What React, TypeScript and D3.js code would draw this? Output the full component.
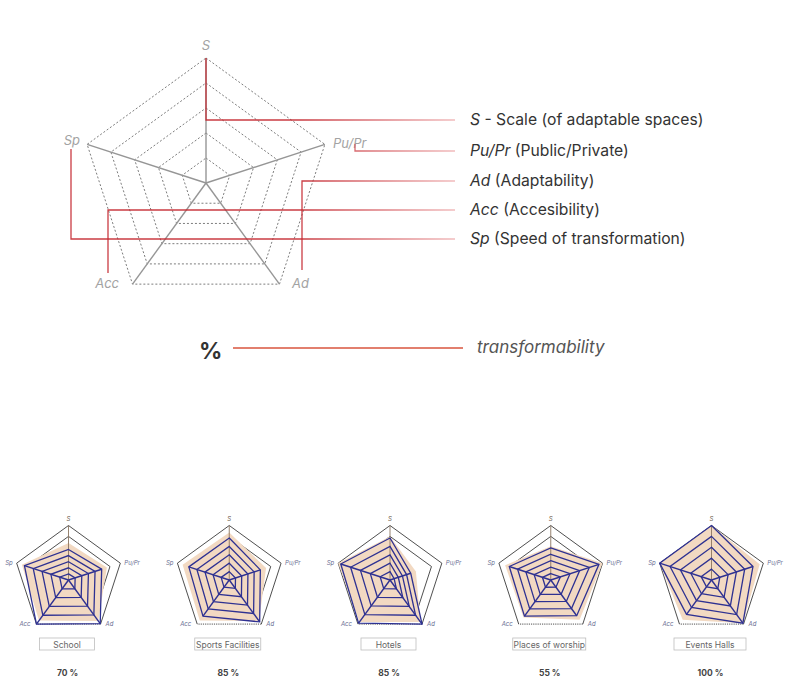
import React from "react";
import * as d3 from "d3";

const AXES = ["S", "Pu/Pr", "Ad", "Acc", "Sp"];
const LEVELS = [0.2, 0.4, 0.6, 0.8, 1.0];
const LEGEND_ABBR = ["S", "Pu/Pr", "Ad", "Acc", "Sp"];
const LEGEND_DESC = [
  " - Scale (of adaptable spaces)",
  " (Public/Private)",
  " (Adaptability)",
  " (Accesibility)",
  " (Speed of transformation)",
];
const CHART_NAMES = ["School", "Sports Facilities", "Hotels", "Places of worship", "Events Halls"];
const CHART_PCT = ["70 %", "85 %", "85 %", "55 %", "100 %"];
// values in axis order S, Pu/Pr, Ad, Acc, Sp
const BLUE_VALUES = [
  [0.56, 0.64, 0.99, 1.0, 0.85],
  [0.77, 0.6, 0.95, 0.82, 0.78],
  [0.77, 0.4, 1.0, 0.98, 0.95],
  [0.59, 0.93, 0.81, 0.82, 0.8],
  [1.0, 0.8, 0.98, 0.78, 1.0],
];
const SHADE_VALUES = [
  [0.68, 0.74, 0.93, 0.92, 0.9],
  [0.87, 0.71, 0.93, 0.92, 0.9],
  [0.8, 0.5, 0.95, 0.95, 1.0],
  [0.62, 1.0, 0.9, 0.85, 0.88],
  [1.0, 0.93, 0.98, 0.9, 1.0],
];

// layout constants
const BOX_WIDTHS = [55, 66, 55, 73, 72];

const FONT = "Inter, Roboto, sans-serif";
const ang = (i: number) => (i * 2 * Math.PI) / AXES.length;
const pt = (cx: number, cy: number, r: number, i: number): [number, number] => [
  cx + r * Math.sin(ang(i)),
  cy - r * Math.cos(ang(i)),
];

function ringPath(cx: number, cy: number, rs: number[]) {
  const line = d3
    .lineRadial<number>()
    .angle((_, i) => ang(i))
    .radius((d) => d)
    .curve(d3.curveLinearClosed);
  return { d: line(rs) as string, transform: `translate(${cx},${cy})` };
}

function MainRadar() {
  const cx = 206, cy = 183, R = 125;
  const r = d3.scaleLinear().domain([0, 1]).range([0, R]);
  const legendY = [120, 151, 181, 210, 239];
  const connectors = [
    `M206,58 V${legendY[0]} H455`,
    `M355,144 V${legendY[1]} H455`,
    `M302,270 V${legendY[2]} H455`,
    `M108,273 V${legendY[3]} H455`,
    `M71,149 V${legendY[4]} H455`,
  ];
  const labelPos: [number, number, string][] = [
    [cx, 50, "middle"],
    [333, 148, "start"],
    [292, 288, "start"],
    [119, 288, "end"],
    [80, 145, "end"],
  ];
  return (
    <g>
      <defs>
        <linearGradient id="redfade" gradientUnits="userSpaceOnUse" x1="60" x2="460" y1="0" y2="0">
          <stop offset="0" stopColor="#c4262e" />
          <stop offset="0.6" stopColor="#c4262e" />
          <stop offset="1" stopColor="#f1b9ba" />
        </linearGradient>
      </defs>
      {LEVELS.map((lv, k) => {
        const p = ringPath(cx, cy, AXES.map(() => r(lv)));
        return (
          <path key={k} d={p.d} transform={p.transform} fill="none" stroke="#7d7d7d" strokeWidth={1} strokeDasharray="2,2" />
        );
      })}
      {AXES.map((a, i) => {
        const [x, y] = pt(cx, cy, r(1), i);
        return <line key={a} x1={cx} y1={cy} x2={x} y2={y} stroke="#969696" strokeWidth={1.4} />;
      })}
      {AXES.map((a, i) => (
        <text key={a} x={labelPos[i][0]} y={labelPos[i][1]} textAnchor={labelPos[i][2] as any} fontFamily={FONT} fontStyle="italic" fontSize={13} fill="#a3a3a3">
          {a}
        </text>
      ))}
      {connectors.map((d, i) => (
        <path key={i} d={d} fill="none" stroke="url(#redfade)" strokeWidth={1.3} opacity={0.9} />
      ))}
      {LEGEND_ABBR.map((a, i) => (
        <text key={a} x={470} y={legendY[i] + 5} fontFamily={FONT} fontSize={15.7} fill="#333">
          <tspan fontStyle="italic">{a}</tspan>
          <tspan>{LEGEND_DESC[i]}</tspan>
        </text>
      ))}
      <text x={199} y={359} fontFamily={FONT} fontWeight="bold" fontSize={23} fill="#333">%</text>
      <line x1={233} x2={463} y1={348} y2={348} stroke="#d9553e" strokeWidth={1.4} />
      <text x={477} y={353} fontFamily={FONT} fontStyle="italic" fontSize={17} fill="#555">transformability</text>
    </g>
  );
}

function SmallRadar({ idx }: { idx: number }) {
  const cx = 68.5 + idx * 160.75, cy = 580, R = 54.5;
  const r = d3.scaleLinear().domain([0, 1]).range([0, R]);
  const blue = BLUE_VALUES[idx];
  const shade = SHADE_VALUES[idx];
  const shadeP = ringPath(cx, cy, shade.map((v) => r(v)));
  const name = CHART_NAMES[idx];
  const boxW = BOX_WIDTHS[idx];
  const outer = AXES.map((_, i) => pt(cx, cy, r(1), i));
  const labelOff: [number, number, string][] = [
    [0, -5, "middle"],
    [4, 2, "start"],
    [5, 2, "start"],
    [-6, 2, "end"],
    [-4, 2, "end"],
  ];
  return (
    <g>
      {LEVELS.filter((l) => l >= 0.8).map((lv, k) => {
        const pts = AXES.map((_, i) => pt(cx, cy, r(lv), i));
        return (
          <g key={k}>
            {pts.map((p, i) => {
              const q = pts[(i + 1) % pts.length];
              const dotted = i === 2;
              return (
                <line key={i} x1={p[0]} y1={p[1]} x2={q[0]} y2={q[1]} stroke="#222" strokeWidth={0.8} strokeDasharray={dotted ? "1.2,1" : undefined} />
              );
            })}
          </g>
        );
      })}
      <path d={shadeP.d} transform={shadeP.transform} fill="#f2d9c2" stroke="none" />
      <line x1={cx} y1={cy} x2={outer[0][0]} y2={outer[0][1]} stroke="#8b7560" strokeWidth={0.9} />
      {LEVELS.map((lv, k) => {
        const p = ringPath(cx, cy, blue.map((v) => r(v * lv)));
        return <path key={k} d={p.d} transform={p.transform} fill="none" stroke="#2e3192" strokeWidth={1.3} />;
      })}
      {AXES.map((a, i) => {
        if (i === 0) return null;
        const [x, y] = pt(cx, cy, r(blue[i]), i);
        return <line key={a} x1={cx} y1={cy} x2={x} y2={y} stroke="#2e3192" strokeWidth={1.4} />;
      })}
      {AXES.map((a, i) => (
        <text key={a} x={outer[i][0] + labelOff[i][0]} y={outer[i][1] + labelOff[i][1]} textAnchor={labelOff[i][2] as any} fontFamily={FONT} fontStyle="italic" fontSize={6} fill={i === 0 ? "#6b5a4a" : "#6a6f93"}>
          {a}
        </text>
      ))}
      <rect x={cx - 1.5 - boxW / 2} y={638} width={boxW} height={12} fill="#fff" stroke="#bdbdbd" strokeWidth={0.8} />
      <text x={cx - 1.5} y={647.5} textAnchor="middle" fontFamily={FONT} fontSize={8.5} fill="#666">{name}</text>
      <text x={cx - 1} y={676} textAnchor="middle" fontFamily={FONT} fontWeight="bold" fontSize={8.5} fill="#444">{CHART_PCT[idx]}</text>
    </g>
  );
}

export default function App() {
  return (
    <svg width={794} height={693} style={{ position: "absolute", left: 0, top: 0, background: "#fff" }}>
      <rect width={794} height={693} fill="#fff" />
      <MainRadar />
      {CHART_NAMES.map((_, i) => (
        <SmallRadar key={i} idx={i} />
      ))}
    </svg>
  );
}
